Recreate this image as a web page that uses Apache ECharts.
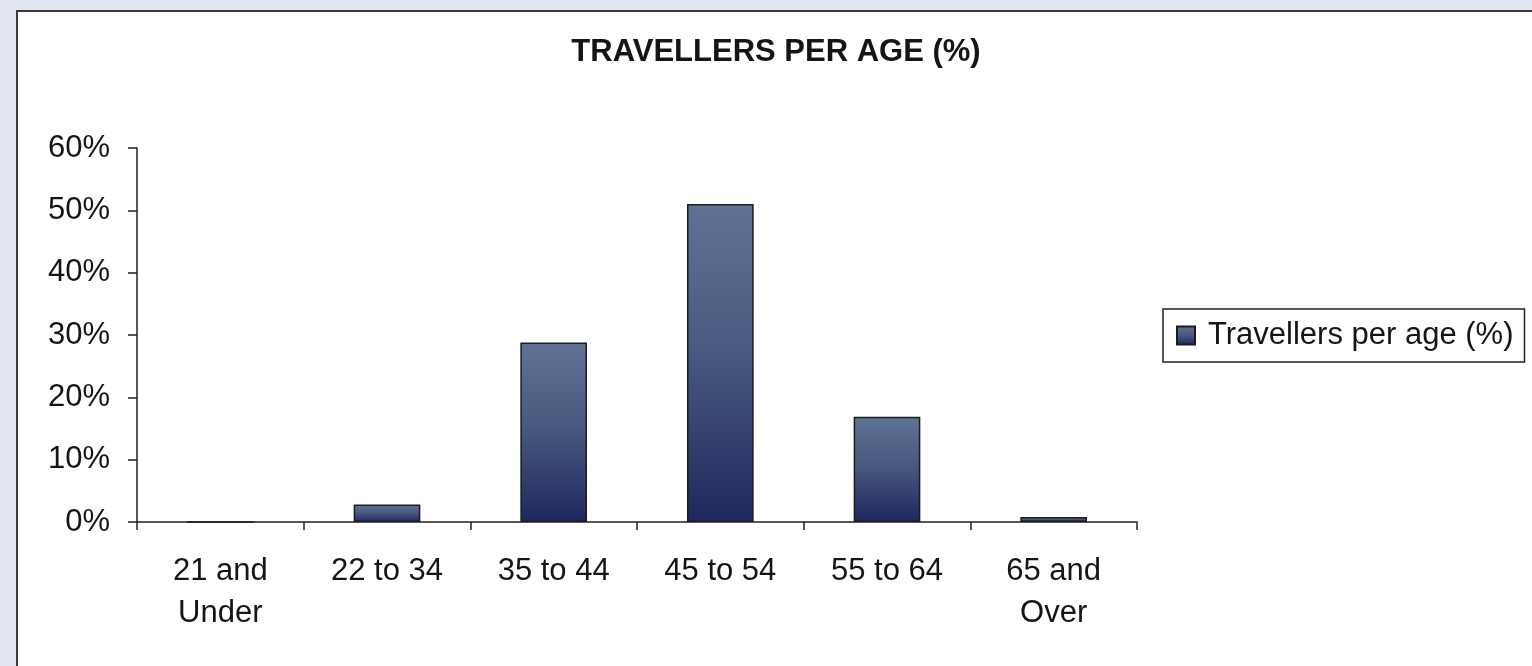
<!DOCTYPE html>
<html>
<head>
<meta charset="utf-8">
<script src="https://cdn.jsdelivr.net/npm/echarts@6/dist/echarts.min.js"></script>
<style>
html,body{margin:0;padding:0;background:#e0e5f1;}
#c{width:1532px;height:666px;}
</style>
</head>
<body>
<div id="c"></div>
<script>
const titleText = 'TRAVELLERS PER AGE (%)';
const seriesName = 'Travellers per age (%)';
const categories = ['21 and\nUnder', '22 to 34', '35 to 44', '45 to 54', '55 to 64', '65 and\nOver'];
const values = [0, 2.8, 28.8, 51.0, 16.9, 0.8];
const yTicks = [0, 10, 20, 30, 40, 50, 60];

const font = "'Liberation Sans', Arial, sans-serif";
const chart = echarts.init(document.getElementById('c'));
chart.setOption({
  backgroundColor: '#e0e5f1',
  animation: false,
  graphic: [{
    type: 'rect', z: -100, silent: true,
    shape: { x: 17, y: 11, width: 1600, height: 700 },
    style: { fill: '#ffffff', stroke: '#3a3a3a', lineWidth: 2 }
  }],
  title: {
    text: titleText,
    left: 771, top: 32, textAlign: 'center',
    textStyle: { fontFamily: font, fontSize: 31, fontWeight: 'bold', color: '#151515' }
  },
  legend: {
    left: 1163, top: 309,
    orient: 'vertical',
    borderColor: '#222', borderWidth: 1.5,
    padding: [11, 11, 11, 13],
    itemWidth: 18, itemHeight: 18,
    icon: 'rect',
    textStyle: { fontFamily: font, fontSize: 31, color: '#151515', padding: [0, 0, 0, 8] },
    data: [seriesName]
  },
  grid: { left: 137, right: 395, top: 148, bottom: 144 },
  xAxis: {
    type: 'category',
    data: categories,
    axisLine: { lineStyle: { color: '#222', width: 1.5 } },
    axisTick: { show: true, length: 8, alignWithLabel: false, lineStyle: { color: '#222', width: 1.5 } },
    axisLabel: { fontFamily: font, fontSize: 31, color: '#151515', margin: 28, lineHeight: 42, interval: 0 }
  },
  yAxis: {
    type: 'value',
    min: yTicks[0], max: yTicks[yTicks.length - 1], interval: yTicks[1] - yTicks[0],
    axisLine: { show: true, lineStyle: { color: '#222', width: 1.5 } },
    axisTick: { show: true, length: 9, lineStyle: { color: '#222', width: 1.5 } },
    splitLine: { show: false },
    axisLabel: { fontFamily: font, fontSize: 31, color: '#151515', margin: 27, formatter: '{value}%' }
  },
  series: [{
    name: seriesName,
    type: 'bar',
    data: values,
    barWidth: '40%',
    itemStyle: {
      color: new echarts.graphic.LinearGradient(0, 0, 0, 1, [
        { offset: 0, color: '#5f7294' },
        { offset: 0.45, color: '#4a5a80' },
        { offset: 1, color: '#1f285e' }
      ]),
      borderColor: '#1c1c1c', borderWidth: 1.5
    }
  }]
});
</script>
</body>
</html>
